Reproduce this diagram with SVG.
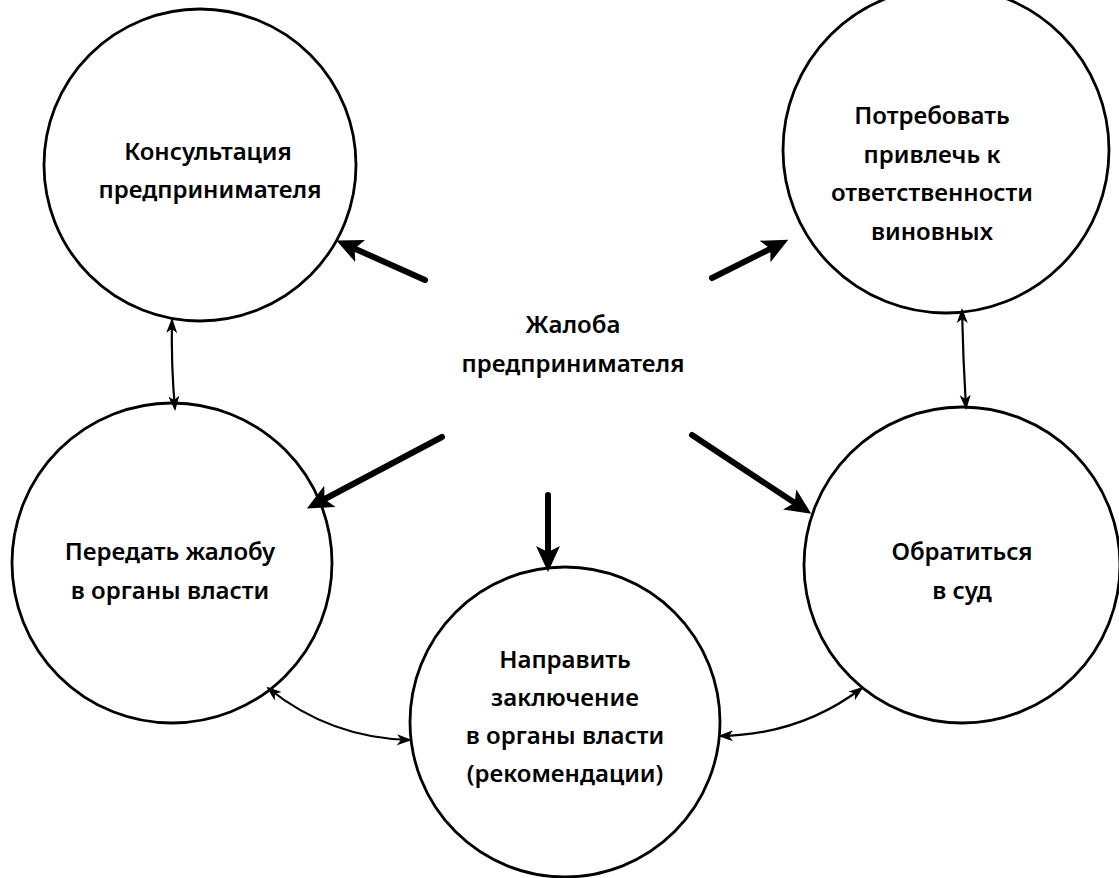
<svg xmlns="http://www.w3.org/2000/svg" width="1119" height="878" viewBox="0 0 1119 878">
<style>
.node circle{fill:#fff;stroke:#000;stroke-width:2.8}
text{font-family:"Noto Sans","Liberation Sans",sans-serif;font-size:24px;font-weight:600;fill:#000;text-anchor:middle}
.thick{stroke:#000;stroke-width:6;fill:none;stroke-linecap:round}
.thin{stroke:#000;stroke-width:2.2;fill:none}
</style>
<defs>
<marker id="big" markerUnits="userSpaceOnUse" markerWidth="28" markerHeight="26" refX="10" refY="12" orient="auto" viewBox="0 0 28 26">
<path d="M0,0 L26,12 L0,24 L6,12 Z" fill="#000"/>
</marker>
<marker id="sm" markerUnits="userSpaceOnUse" markerWidth="16" markerHeight="12" refX="13" refY="6" orient="auto-start-reverse" viewBox="0 0 16 12">
<path d="M0,0.5 L15,6 L0,11.5 L4,6 Z" fill="#000"/>
</marker>
</defs>
<rect width="1119" height="878" fill="#fff"/>
<g id="n1" class="node">
<circle cx="200" cy="165" r="156"/>
<text x="208" y="160">Консультация</text>
<text x="210" y="198">предпринимателя</text>
</g>
<g id="n2" class="node">
<circle cx="946" cy="150" r="163"/>
<text x="932" y="124">Потребовать</text>
<text x="932" y="163">привлечь к</text>
<text x="932" y="201">ответственности</text>
<text x="932" y="240">виновных</text>
</g>
<g id="n3" class="node">
<circle cx="172" cy="563" r="160"/>
<text x="170" y="560">Передать жалобу</text>
<text x="170" y="599">в органы власти</text>
</g>
<g id="n4" class="node">
<circle cx="565" cy="722" r="155"/>
<text x="565" y="668">Направить</text>
<text x="565" y="706">заключение</text>
<text x="565" y="744">в органы власти</text>
<text x="565" y="782">(рекомендации)</text>
</g>
<g id="n5" class="node">
<circle cx="962" cy="565" r="158"/>
<text x="962" y="560">Обратиться</text>
<text x="962" y="599">в суд</text>
</g>
<g id="center">
<text x="573" y="333">Жалоба</text>
<text x="573" y="372">предпринимателя</text>
</g>
<g id="connectors">
<path class="thick" d="M425,280 L351,247" marker-end="url(#big)"/>
<path class="thick" d="M712,278 L774,247" marker-end="url(#big)"/>
<path class="thick" d="M442,437 L321,501" marker-end="url(#big)"/>
<path class="thick" d="M548,495 L548,556" marker-end="url(#big)"/>
<path class="thick" d="M692,435 L798,505" marker-end="url(#big)"/>
<path class="thin" d="M172,320 Q171,365 175,409" marker-start="url(#sm)" marker-end="url(#sm)"/>
<path class="thin" d="M962,310 Q963,358 966,408" marker-start="url(#sm)" marker-end="url(#sm)"/>
<path class="thin" d="M268,688 Q330,738 410,740" marker-start="url(#sm)" marker-end="url(#sm)"/>
<path class="thin" d="M720,736 Q800,735 862,688" marker-start="url(#sm)" marker-end="url(#sm)"/>
</g>
</svg>
